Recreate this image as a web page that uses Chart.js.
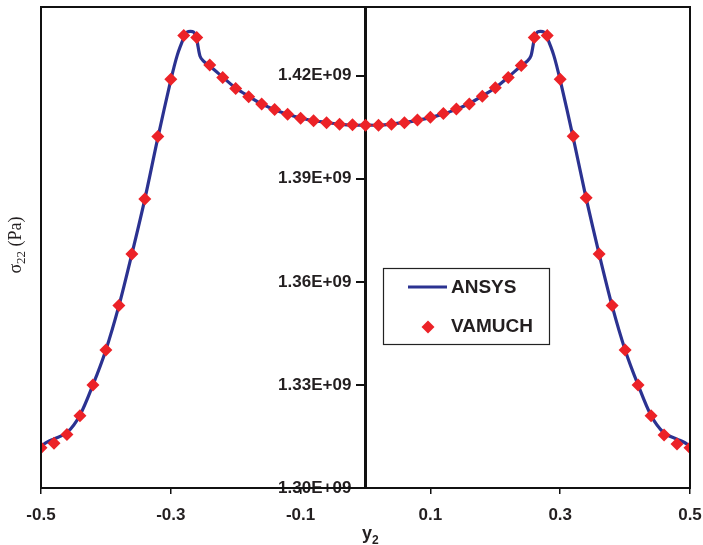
<!DOCTYPE html>
<html><head><meta charset="utf-8">
<script src="https://cdn.jsdelivr.net/npm/chart.js@4"></script>
<style>html,body{margin:0;padding:0;background:#fff}</style>
</head><body>
<canvas id="c" width="703" height="545"></canvas>
<script>
// VAMUCH markers (y2, sigma22 in 1e9 Pa)
const vamuchX = [-0.50,-0.48,-0.46,-0.44,-0.42,-0.40,-0.38,-0.36,-0.34,-0.32,-0.30,-0.28,-0.26,-0.24,-0.22,-0.20,-0.18,-0.16,-0.14,-0.12,-0.10,-0.08,-0.06,-0.04,-0.02,0.00,0.02,0.04,0.06,0.08,0.10,0.12,0.14,0.16,0.18,0.20,0.22,0.24,0.26,0.28,0.30,0.32,0.34,0.36,0.38,0.40,0.42,0.44,0.46,0.48,0.50];
const vamuchY = [1.3117,1.3130,1.3156,1.3210,1.3300,1.3402,1.3531,1.3681,1.3841,1.4023,1.4190,1.4317,1.4311,1.4231,1.4195,1.4163,1.4139,1.4118,1.4102,1.4088,1.4076,1.4069,1.4063,1.4059,1.4057,1.4056,1.4056,1.4059,1.4063,1.4071,1.4079,1.4090,1.4103,1.4118,1.4140,1.4165,1.4195,1.4230,1.4311,1.4317,1.4190,1.4024,1.3845,1.3681,1.3531,1.3402,1.3300,1.3210,1.3154,1.3128,1.3117];
// ANSYS curve (y2, sigma22 in 1e9 Pa)
const ansysX = [-0.50,-0.49,-0.48,-0.46,-0.44,-0.42,-0.40,-0.38,-0.36,-0.34,-0.32,-0.30,-0.29,-0.28,-0.275,-0.265,-0.26,-0.255,-0.25,-0.24,-0.22,-0.20,-0.18,-0.16,-0.14,-0.12,-0.10,-0.08,-0.06,-0.04,-0.02,0.00,0.02,0.04,0.06,0.08,0.10,0.12,0.14,0.16,0.18,0.20,0.22,0.24,0.25,0.255,0.26,0.265,0.275,0.28,0.29,0.30,0.32,0.34,0.36,0.38,0.40,0.42,0.44,0.46,0.48,0.49,0.50];
const ansysY = [1.3122,1.3134,1.3143,1.3161,1.3212,1.3300,1.3402,1.3530,1.3681,1.3841,1.4019,1.4187,1.4260,1.4310,1.4327,1.4327,1.4304,1.4257,1.4243,1.4228,1.4196,1.4164,1.4140,1.4118,1.4101,1.4088,1.4077,1.4069,1.4064,1.4059,1.4056,1.4056,1.4056,1.4059,1.4064,1.4070,1.4078,1.4089,1.4102,1.4119,1.4141,1.4165,1.4196,1.4229,1.4244,1.4258,1.4305,1.4327,1.4327,1.4310,1.4260,1.4187,1.4020,1.3843,1.3681,1.3530,1.3402,1.3300,1.3211,1.3160,1.3142,1.3134,1.3122];
const xTicks = [-0.5,-0.3,-0.1,0.1,0.3,0.5];
const yTicks = [1.30,1.33,1.36,1.39,1.42];
const seriesNames = ['ANSYS','VAMUCH'];

const BLUE = '#2B3291', RED = '#EC2227';
const FONT = '"Liberation Sans", Arial, sans-serif';
const SERIF = '"Liberation Serif", "Times New Roman", serif';

const framePlugin = {
  id: 'frame',
  afterDraw(chart) {
    const {ctx, chartArea: a} = chart;
    ctx.save();
    ctx.strokeStyle = '#111'; ctx.lineWidth = 2;
    ctx.strokeRect(a.left, a.top, a.right - a.left, a.bottom - a.top);
    // legend box
    ctx.fillStyle = '#fff';
    ctx.fillRect(383, 268, 166, 76);
    ctx.lineWidth = 1.2; ctx.strokeStyle = '#222';
    ctx.strokeRect(383.5, 268.5, 166, 76);
    ctx.strokeStyle = BLUE; ctx.lineWidth = 3;
    ctx.beginPath(); ctx.moveTo(408, 287); ctx.lineTo(447, 287); ctx.stroke();
    ctx.fillStyle = RED;
    ctx.beginPath(); ctx.moveTo(428, 320.5); ctx.lineTo(434.5, 327); ctx.lineTo(428, 333.5); ctx.lineTo(421.5, 327); ctx.closePath(); ctx.fill();
    ctx.fillStyle = '#231f20'; ctx.font = 'bold 19px ' + FONT; ctx.textBaseline = 'middle'; ctx.textAlign = 'left';
    ctx.fillText(seriesNames[0], 451, 288);
    ctx.fillText(seriesNames[1], 451, 327);
    // y title
    ctx.save();
    ctx.translate(21, 245); ctx.rotate(-Math.PI / 2);
    ctx.font = '18px ' + SERIF;
    const s1 = 'σ', s3 = ' (Pa)';
    const w1 = ctx.measureText(s1).width;
    ctx.font = '13px ' + SERIF;
    const w2 = ctx.measureText('22').width;
    ctx.font = '18px ' + SERIF;
    const w3 = ctx.measureText(s3).width;
    let x0 = -(w1 + w2 + w3) / 2;
    ctx.textBaseline = 'alphabetic'; ctx.textAlign = 'left';
    ctx.fillText(s1, x0, 0);
    ctx.font = '13px ' + SERIF;
    ctx.fillText('22', x0 + w1, 4);
    ctx.font = '18px ' + SERIF;
    ctx.fillText(s3, x0 + w1 + w2, 0);
    ctx.restore();
    // x title
    ctx.fillStyle = '#231f20';
    ctx.font = 'bold 18px ' + FONT; ctx.textBaseline = 'alphabetic';
    ctx.fillText('y', 362, 539);
    const wy = ctx.measureText('y').width;
    ctx.font = 'bold 12px ' + FONT;
    ctx.fillText('2', 362 + wy, 544);
    ctx.restore();
  }
};

new Chart(document.getElementById('c'), {
  type: 'scatter',
  data: {
    datasets: [
      { label: seriesNames[0], data: ansysX.map((x, i) => ({x, y: ansysY[i] * 1e9})), showLine: true,
        borderColor: BLUE, borderWidth: 3.2, pointRadius: 0, tension: 0.3, order: 2 },
      { label: seriesNames[1], data: vamuchX.map((x, i) => ({x, y: vamuchY[i] * 1e9})), showLine: false,
        pointStyle: 'rectRot', pointRadius: 6.5, backgroundColor: RED, borderColor: RED, borderWidth: 0, order: 1 }
    ]
  },
  options: {
    responsive: false, animation: false, devicePixelRatio: 1,
    layout: { padding: { left: 41, right: 13, top: 7, bottom: 0 } },
    plugins: { legend: { display: false }, tooltip: { enabled: false } },
    scales: {
      x: {
        type: 'linear', position: 'bottom', min: -0.5, max: 0.5,
        afterBuildTicks: s => { s.ticks = xTicks.map(v => ({value: v})); },
        afterFit: s => { s.height = 57; s.paddingLeft = 0; s.paddingRight = 0; },
        ticks: { font: { family: FONT, size: 17, weight: 'bold' }, color: '#231f20', padding: 11,
                 callback: v => String(v) },
        grid: { drawOnChartArea: false, drawTicks: true, tickLength: 6, color: '#111', lineWidth: 1.5 },
        border: { color: '#111', width: 2 }
      },
      y: {
        type: 'linear', position: { x: 0 }, min: 1.30e9, max: 1.44e9,
        afterBuildTicks: s => { s.ticks = yTicks.map(v => ({value: v * 1e9})); },
        afterFit: s => { s.paddingTop = 0; s.paddingBottom = 0; },
        ticks: { font: { family: FONT, size: 17, weight: 'bold' }, color: '#231f20',
                 callback: v => (v / 1e9).toFixed(2) + 'E+09   ' },
        grid: { drawOnChartArea: false, drawTicks: true, tickLength: 8, color: '#111', lineWidth: 2 },
        border: { color: '#111', width: 3 }
      }
    }
  },
  plugins: [framePlugin]
});
</script>
</body></html>
